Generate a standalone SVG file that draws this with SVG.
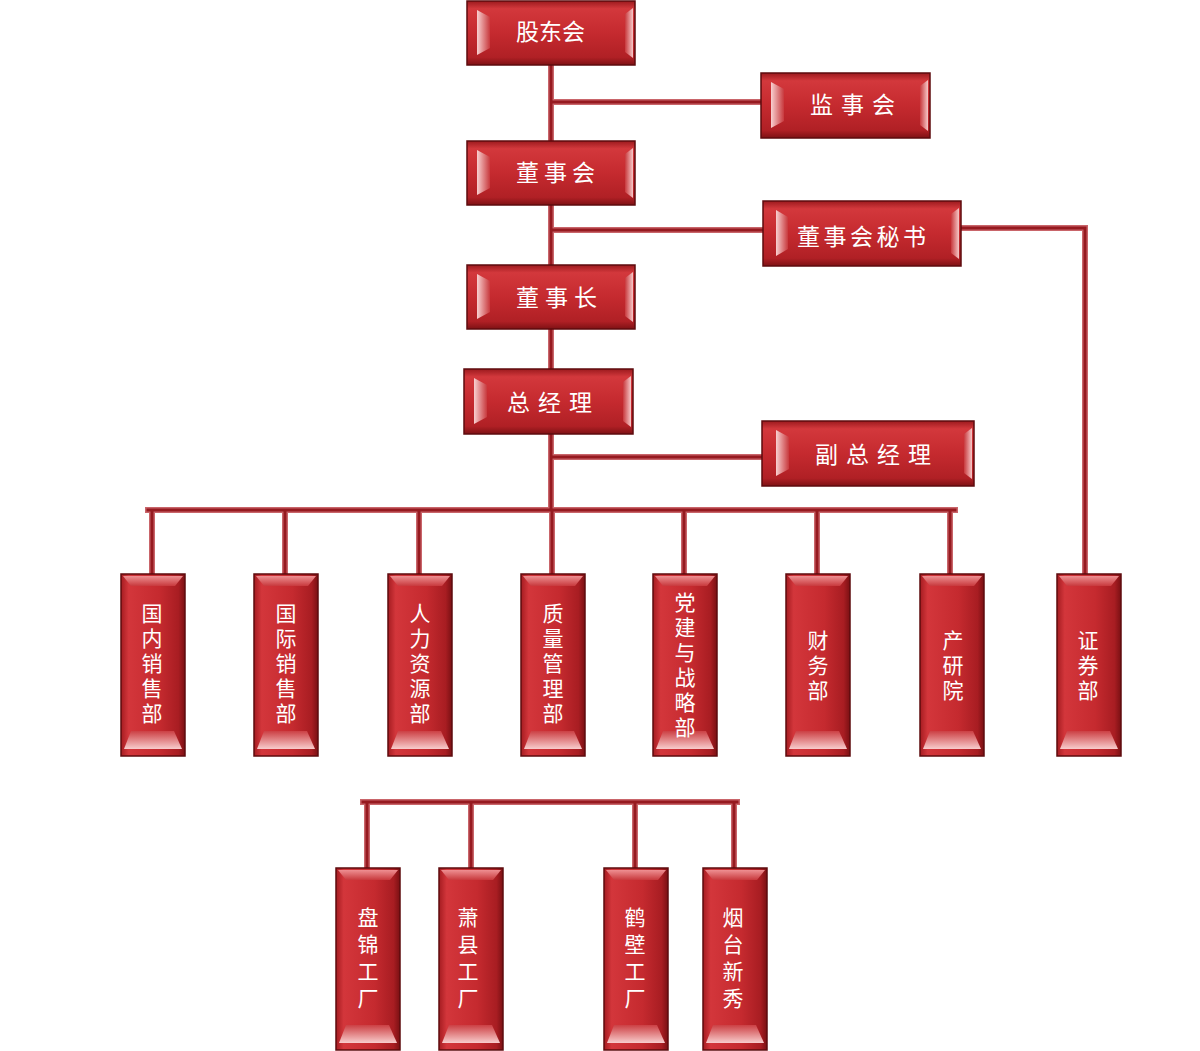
<svg xmlns="http://www.w3.org/2000/svg" xmlns:xlink="http://www.w3.org/1999/xlink" width="1200" height="1051" viewBox="0 0 1200 1051">
<style>
.wo{fill:none;stroke:#c9656a;stroke-width:6;stroke-linecap:square}
.wi{fill:none;stroke:#961a20;stroke-width:3;stroke-linecap:square}
.hbox{fill:url(#gH);stroke:#5e0b0e;stroke-width:1.5}
.vbox{fill:url(#gV);stroke:#5e0b0e;stroke-width:1.5}
.bl{fill:url(#gBL)}
.br{fill:url(#gBR)}
.bt{fill:url(#gBT)}
.bb{fill:url(#gBB)}
.t{font-family:"Noto Sans CJK SC","Liberation Sans",sans-serif;fill:#ffffff;font-size:23px}
.vt{font-family:"Noto Sans CJK SC","Liberation Sans",sans-serif;fill:#ffffff;font-size:21px;text-anchor:middle;writing-mode:vertical-rl;letter-spacing:4px}
.vf{letter-spacing:6px}
</style>
<defs>
<linearGradient id="gH" x1="0" y1="0" x2="0" y2="1">
<stop offset="0" stop-color="#9c1a1e"/>
<stop offset="0.12" stop-color="#d3383c"/>
<stop offset="0.5" stop-color="#c52a2f"/>
<stop offset="0.88" stop-color="#b02025"/>
<stop offset="1" stop-color="#7e1114"/>
</linearGradient>
<linearGradient id="gV" x1="0" y1="0" x2="1" y2="0">
<stop offset="0" stop-color="#a51c21"/>
<stop offset="0.12" stop-color="#d3363b"/>
<stop offset="0.6" stop-color="#c52a2f"/>
<stop offset="0.9" stop-color="#a81d22"/>
<stop offset="1" stop-color="#7a1013"/>
</linearGradient>
<linearGradient id="gBL" x1="0" y1="0" x2="1" y2="0">
<stop offset="0" stop-color="#f8d0d0"/>
<stop offset="1" stop-color="#c8393d"/>
</linearGradient>
<linearGradient id="gBR" x1="0" y1="0" x2="1" y2="0">
<stop offset="0" stop-color="#c8393d"/>
<stop offset="1" stop-color="#f6c8c8"/>
</linearGradient>
<linearGradient id="gBT" x1="0" y1="0" x2="0" y2="1">
<stop offset="0" stop-color="#ee8f92"/>
<stop offset="1" stop-color="#c8393d"/>
</linearGradient>
<linearGradient id="gBB" x1="0" y1="0" x2="0" y2="1">
<stop offset="0" stop-color="#cc4044"/>
<stop offset="1" stop-color="#f8cccc"/>
</linearGradient>
<path id="wires" d="M551,65 V510 M551,102 H761 M551,230 H763 M961,228 H1085 V575 M551,457 H762 M148,510 H955 M152,510 V575 M285,510 V575 M419,510 V575 M552,510 V575 M684,510 V575 M817,510 V575 M950,510 V575 M363,802 H737 M367,802 V868 M471,802 V868 M635,802 V868 M734,802 V868"/>
</defs>
<rect width="1200" height="1051" fill="#ffffff"/>
<g id="connectors">
<use xlink:href="#wires" class="wo"/>
<use xlink:href="#wires" class="wi"/>
</g>
<g id="n-gudonghui">
<rect class="hbox" x="467" y="1" width="168" height="64"/>
<path class="bl" d="M477,10 L490,17 V48 L477,55 Z"/>
<path class="br" d="M625,14 L633,8 V58 L625,52 Z"/>
<text class="t" x="516" y="40">股东会</text>
</g>
<g id="n-jianshihui">
<rect class="hbox" x="761" y="73" width="169" height="65"/>
<path class="bl" d="M771,82 L784,89 V121 L771,128 Z"/>
<path class="br" d="M920,86 L928,80 V131 L920,125 Z"/>
<text class="t" x="810" y="113" letter-spacing="8">监事会</text>
</g>
<g id="n-dongshihui">
<rect class="hbox" x="467" y="141" width="168" height="64"/>
<path class="bl" d="M477,150 L490,157 V188 L477,195 Z"/>
<path class="br" d="M625,154 L633,148 V198 L625,192 Z"/>
<text class="t" x="516" y="181" letter-spacing="5">董事会</text>
</g>
<g id="n-mishu">
<rect class="hbox" x="763" y="201" width="198" height="65"/>
<path class="bl" d="M776,210 L788,217 V249 L776,256 Z"/>
<path class="br" d="M951,214 L959,208 V259 L951,253 Z"/>
<text class="t" x="797" y="245" letter-spacing="3.5">董事会秘书</text>
</g>
<g id="n-dongshizhang">
<rect class="hbox" x="467" y="265" width="168" height="64"/>
<path class="bl" d="M477,274 L490,281 V312 L477,319 Z"/>
<path class="br" d="M625,278 L633,272 V322 L625,316 Z"/>
<text class="t" x="516" y="306" letter-spacing="6">董事长</text>
</g>
<g id="n-zongjingli">
<rect class="hbox" x="464" y="369" width="169" height="65"/>
<path class="bl" d="M474,378 L487,385 V417 L474,424 Z"/>
<path class="br" d="M623,382 L631,376 V427 L623,421 Z"/>
<text class="t" x="507" y="411" letter-spacing="8">总经理</text>
</g>
<g id="n-fuzongjingli">
<rect class="hbox" x="762" y="421" width="212" height="65"/>
<path class="bl" d="M776,430 L789,437 V469 L776,476 Z"/>
<path class="br" d="M964,434 L972,428 V479 L964,473 Z"/>
<text class="t" x="815" y="463" letter-spacing="8">副总经理</text>
</g>
<g id="n-guonei">
<rect class="vbox" x="121" y="574" width="64" height="182"/>
<path class="bt" d="M123,576 H183 L175,586 H131 Z"/>
<path class="bb" d="M131,731 H174 L182,749 H124 Z"/>
<text class="vt" x="152" y="665">国内销售部</text>
</g>
<g id="n-guoji">
<rect class="vbox" x="254" y="574" width="64" height="182"/>
<path class="bt" d="M256,576 H316 L308,586 H264 Z"/>
<path class="bb" d="M264,731 H307 L315,749 H257 Z"/>
<text class="vt" x="286" y="665">国际销售部</text>
</g>
<g id="n-renli">
<rect class="vbox" x="388" y="574" width="64" height="182"/>
<path class="bt" d="M390,576 H450 L442,586 H398 Z"/>
<path class="bb" d="M398,731 H441 L449,749 H391 Z"/>
<text class="vt" x="420" y="665">人力资源部</text>
</g>
<g id="n-zhiliang">
<rect class="vbox" x="521" y="574" width="64" height="182"/>
<path class="bt" d="M523,576 H583 L575,586 H531 Z"/>
<path class="bb" d="M531,731 H574 L582,749 H524 Z"/>
<text class="vt" x="553" y="665">质量管理部</text>
</g>
<g id="n-dangjian">
<rect class="vbox" x="653" y="574" width="64" height="182"/>
<path class="bt" d="M655,576 H715 L707,586 H663 Z"/>
<path class="bb" d="M663,731 H706 L714,749 H656 Z"/>
<text class="vt" x="685" y="667">党建与战略部</text>
</g>
<g id="n-caiwu">
<rect class="vbox" x="786" y="574" width="64" height="182"/>
<path class="bt" d="M788,576 H848 L840,586 H796 Z"/>
<path class="bb" d="M796,731 H839 L847,749 H789 Z"/>
<text class="vt" x="818" y="667">财务部</text>
</g>
<g id="n-chanyan">
<rect class="vbox" x="920" y="574" width="64" height="182"/>
<path class="bt" d="M922,576 H982 L974,586 H930 Z"/>
<path class="bb" d="M930,731 H973 L981,749 H923 Z"/>
<text class="vt" x="953" y="667">产研院</text>
</g>
<g id="n-zhengquan">
<rect class="vbox" x="1057" y="574" width="64" height="182"/>
<path class="bt" d="M1059,576 H1119 L1111,586 H1067 Z"/>
<path class="bb" d="M1067,731 H1110 L1118,749 H1060 Z"/>
<text class="vt" x="1088" y="667">证券部</text>
</g>
<g id="n-panjin">
<rect class="vbox" x="336" y="868" width="64" height="182"/>
<path class="bt" d="M338,870 H398 L390,880 H346 Z"/>
<path class="bb" d="M346,1025 H389 L397,1043 H339 Z"/>
<text class="vt vf" x="368" y="961">盘锦工厂</text>
</g>
<g id="n-xiaoxian">
<rect class="vbox" x="439" y="868" width="64" height="182"/>
<path class="bt" d="M441,870 H501 L493,880 H449 Z"/>
<path class="bb" d="M449,1025 H492 L500,1043 H442 Z"/>
<text class="vt vf" x="468" y="961">萧县工厂</text>
</g>
<g id="n-hebi">
<rect class="vbox" x="604" y="868" width="64" height="182"/>
<path class="bt" d="M606,870 H666 L658,880 H614 Z"/>
<path class="bb" d="M614,1025 H657 L665,1043 H607 Z"/>
<text class="vt vf" x="635" y="961">鹤壁工厂</text>
</g>
<g id="n-yantai">
<rect class="vbox" x="703" y="868" width="64" height="182"/>
<path class="bt" d="M705,870 H765 L757,880 H713 Z"/>
<path class="bb" d="M713,1025 H756 L764,1043 H706 Z"/>
<text class="vt vf" x="733" y="961">烟台新秀</text>
</g>
</svg>
